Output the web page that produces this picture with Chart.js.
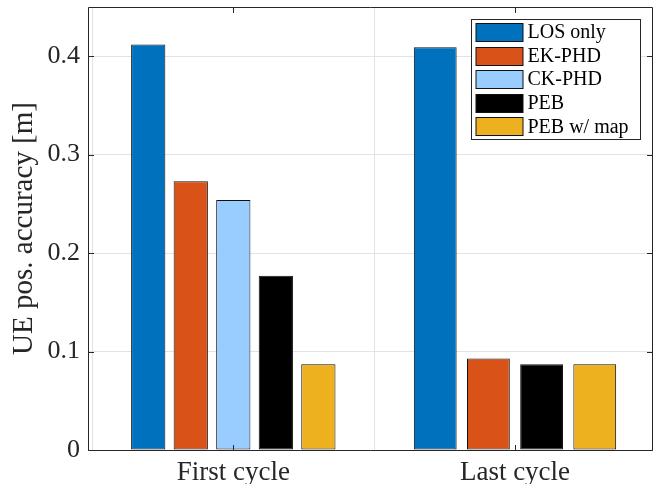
<!DOCTYPE html>
<html>
<head>
<meta charset="utf-8">
<script src="https://cdn.jsdelivr.net/npm/chart.js@4/dist/chart.umd.min.js"></script>
<style>
  html, body { margin: 0; padding: 0; background: #fff; }
  #wrap { width: 659px; height: 484px; position: relative; }
</style>
</head>
<body>
<div id="wrap"><canvas id="c" width="659" height="484"></canvas></div>
<script>
// ---- data ----
const categories = ['First cycle', 'Last cycle'];
const seriesNames = ['LOS only', 'EK-PHD', 'CK-PHD', 'PEB', 'PEB w/ map'];
const losOnly = [0.412, 0.409];
const ekPhd   = [0.273, 0.093];
const ckPhd   = [0.254, null];
const peb     = [0.177, 0.087];
const pebMap  = [0.087, 0.087];
const yTicks  = [0, 0.1, 0.2, 0.3, 0.4];
const yTickLabels = ['0', '0.1', '0.2', '0.3', '0.4'];

const seriesValues = [losOnly, ekPhd, ckPhd, peb, pebMap];
const seriesColors = ['#0072BD', '#D95319', '#99CCFF', '#000000', '#EDB120'];

const datasets = seriesNames.map((name, s) => ({
  label: name,
  data: seriesValues[s].map((v, i) => ({ x: i + 1, y: v })),
  backgroundColor: seriesColors[s],
  borderColor: '#111111',
  borderWidth: 1,
  borderSkipped: false,
  categoryPercentage: 0.755,
  barPercentage: 0.805,
  skipNull: true
}));

const SERIF = '"Liberation Serif", "Times New Roman", serif';
const AXIS = '#262626';

const matlabAxes = {
  id: 'matlabAxes',
  afterDatasetsDraw(chart) {
    const ctx = chart.ctx;
    const a = chart.chartArea;
    const xs = chart.scales.x, ys = chart.scales.y;
    ctx.save();
    ctx.strokeStyle = AXIS;
    ctx.lineWidth = 1;
    // box
    const L = Math.round(a.left) + 0.5, R = Math.round(a.right) - 0.5;
    const T = Math.round(a.top) + 0.5, B = Math.round(a.bottom) + 0.5;
    ctx.beginPath();
    ctx.rect(L, T, R - L, B - T);
    ctx.stroke();
    // inward ticks
    const tl = 5.5;
    ctx.beginPath();
    yTicks.forEach(v => {
      const y = Math.round(ys.getPixelForValue(v)) + 0.5;
      ctx.moveTo(L, y); ctx.lineTo(L + tl, y);
      ctx.moveTo(R, y); ctx.lineTo(R - tl, y);
    });
    categories.forEach((c, i) => {
      const x = Math.round(xs.getPixelForValue(i + 1)) + 0.5;
      ctx.moveTo(x, B); ctx.lineTo(x, B - tl);
      ctx.moveTo(x, T); ctx.lineTo(x, T + tl);
    });
    ctx.stroke();

    // legend
    const bx = Math.round(a.right) - 12 - 169.5, by = Math.round(a.top) + 12.5;
    const bw = 169, bh = 120;
    ctx.fillStyle = '#fff';
    ctx.fillRect(bx, by, bw, bh);
    ctx.strokeStyle = AXIS;
    ctx.strokeRect(bx, by, bw, bh);
    ctx.font = '20px ' + SERIF;
    ctx.textBaseline = 'middle';
    ctx.textAlign = 'left';
    chart.data.datasets.forEach((ds, i) => {
      const cy = by + 12.5 + i * 23.6;
      const sx = bx + 4.5, sw = 47, sh = 18;
      ctx.fillStyle = ds.backgroundColor;
      ctx.fillRect(sx, Math.round(cy - sh / 2) + 0.5, sw, sh);
      ctx.strokeStyle = '#111111';
      ctx.strokeRect(sx, Math.round(cy - sh / 2) + 0.5, sw, sh);
      ctx.fillStyle = '#000';
      ctx.fillText(ds.label, bx + 56, cy + 1);
    });
    ctx.restore();
  }
};

new Chart(document.getElementById('c'), {
  type: 'bar',
  data: { datasets },
  options: {
    responsive: false,
    animation: false,
    layout: { autoPadding: false, padding: { top: 7, right: 6, left: 0, bottom: 0 } },
    plugins: { legend: { display: false }, tooltip: { enabled: false } },
    scales: {
      x: {
        type: 'linear',
        min: 0.4842,
        max: 2.4899,
        offset: false,
        afterBuildTicks(scale) { scale.ticks = categories.map((c, i) => ({ value: i + 1 })); },
        afterFit(scale) { scale.height = 34; scale.paddingLeft = 0; scale.paddingRight = 0; scale.paddingTop = 0; scale.paddingBottom = 0; },
        ticks: {
          autoSkip: false,
          maxRotation: 0,
          padding: 6.5,
          color: '#262626',
          font: { family: SERIF, size: 27 },
          callback: (v) => categories[Math.round(v) - 1]
        },
        grid: { color: '#e3e3e3', lineWidth: 1, drawTicks: false },
        border: { display: false }
      },
      y: {
        min: 0,
        max: 0.45,
        afterBuildTicks(scale) { scale.ticks = yTicks.map(v => ({ value: v })); },
        afterFit(scale) { scale.width = 88; scale.paddingTop = 0; scale.paddingBottom = 0; scale.paddingLeft = 0; scale.paddingRight = 0; },
        ticks: {
          padding: 8,
          color: '#262626',
          font: { family: SERIF, size: 26 },
          callback: (v) => yTickLabels[yTicks.indexOf(v)] ?? ''
        },
        grid: { color: '#e3e3e3', lineWidth: 1, drawTicks: false },
        border: { display: false },
        title: {
          display: true,
          text: 'UE pos. accuracy [m]',
          color: '#262626',
          font: { family: SERIF, size: 29 },
          padding: { top: 7, bottom: 0 }
        }
      }
    }
  },
  plugins: [matlabAxes]
});
</script>
</body>
</html>
